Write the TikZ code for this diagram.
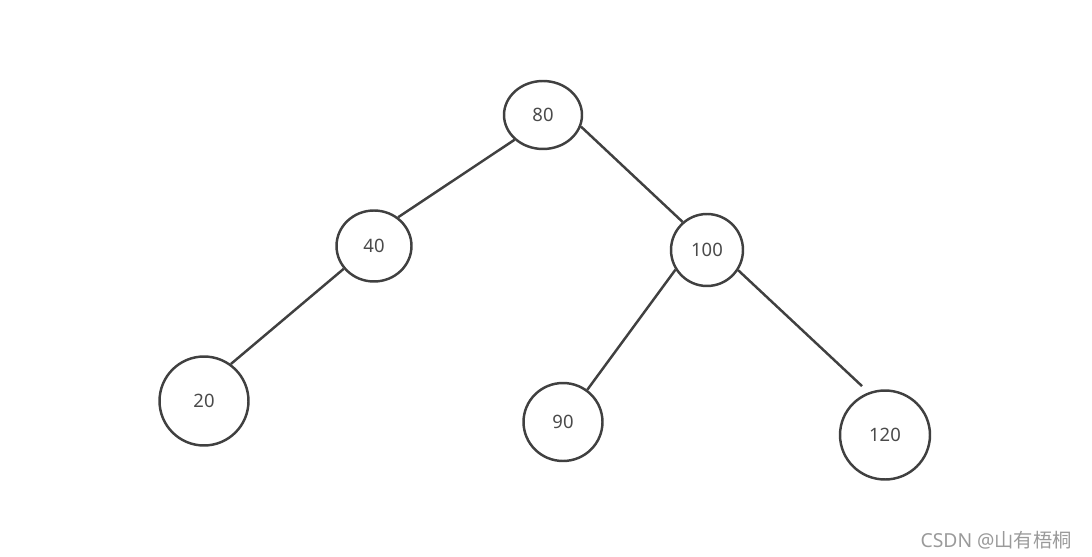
\documentclass[tikz,border=0pt]{standalone}
\usepackage{fontspec}
\setmainfont{Noto Sans}
\newfontfamily\cjk{Noto Sans CJK SC}
\usetikzlibrary{shapes.geometric,positioning}
\definecolor{treeline}{HTML}{404040}
\definecolor{treetext}{HTML}{4A4A4A}
\definecolor{markgray}{HTML}{9A9A9A}

\begin{document}
\begin{tikzpicture}[x=0.02cm, y=-0.02cm, line width=1.4pt, auto]
\tikzstyle{every node}=[font=\fontsize{10.5}{12}\selectfont, text=treetext]
\tikzstyle{key}=[ellipse, draw=treeline, inner sep=0pt]
\useasboundingbox (0,0) rectangle (1092,557);

\node[key, minimum width=1.56cm, minimum height=1.36cm] (n80)  at (543,115) {80};
\node[key, minimum width=1.50cm, minimum height=1.42cm] (n40)  at (374,246) {40};
\node[key, minimum width=1.44cm, minimum height=1.44cm] (n100) at (707,250) {100};
\node[key, minimum width=1.78cm, minimum height=1.78cm] (n20)  at (204,401) {20};
\node[key, minimum width=1.58cm, minimum height=1.56cm] (n90)  at (563,422) {90};
\node[key, minimum width=1.80cm, minimum height=1.78cm] (n120) at (885,435) {120};

\path[draw=treeline] (n80.221) edge node {} (n40.50)
                     (n80.-17) edge node {} (n100.131);
\path[draw=treeline] (n40.217) edge node {} (n20.54);
\path[draw=treeline] (n100.212) edge node {} (n90.53);
\path[draw=treeline, shorten >=0.18cm] (n100.-33) edge node {} (n120.111);

% watermark
\node[text=markgray, font=\fontsize{11}{13}\selectfont, anchor=east] (mark) at (1079,540) {CSDN @{\cjk 山有梧桐}};
\end{tikzpicture}
\end{document}
